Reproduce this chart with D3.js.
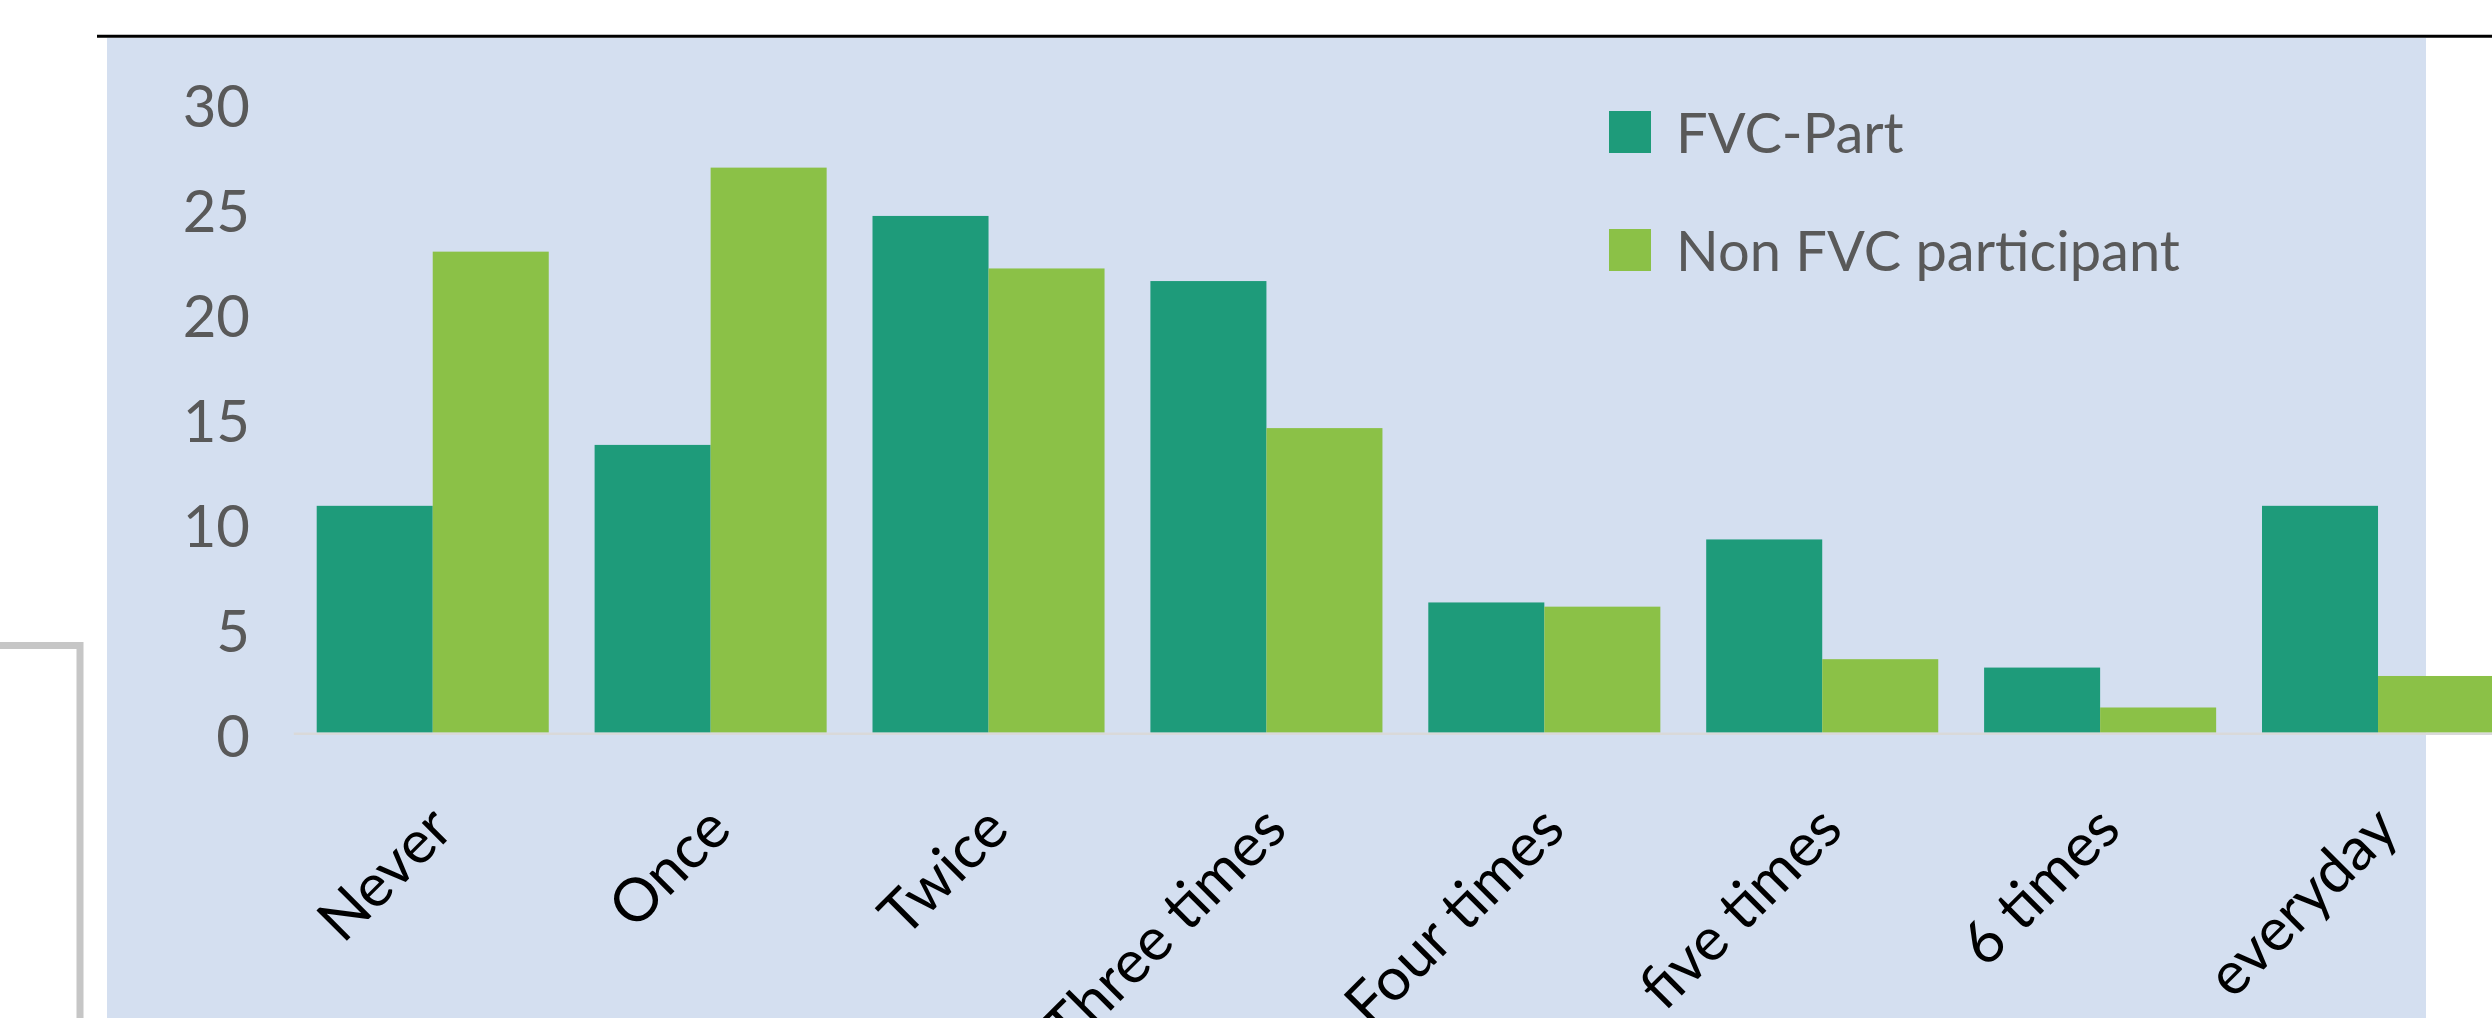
<!DOCTYPE html>
<html>
<head>
<meta charset="utf-8">
<script src="https://cdn.jsdelivr.net/npm/d3@7"></script>
<style>
  body { margin: 0; background: #fff; }
  svg { display: block; }
</style>
</head>
<body>
<script>
// data
var categories = ["Never", "Once", "Twice", "Three times", "Four times", "five times", "6 times", "everyday"];
var seriesNames = ["FVC-Part", "Non FVC participant"];
var fvcPart = [10.8, 13.7, 24.6, 21.5, 6.2, 9.2, 3.1, 10.8];
var nonFvc = [22.9, 26.9, 22.1, 14.5, 6.0, 3.5, 1.2, 2.7];
var yTicks = [0, 5, 10, 15, 20, 25, 30];

var colors = ["#1e9b7a", "#8bc147"];

var width = 2492
var height = 1018

var svg = d3.select("body").append("svg")
    .attr("width", width)
    .attr("height", height)

// slide pieces behind the chart
svg.append("rect")
    .attr("x", 107).attr("y", 38)
    .attr("width", 2426 - 107).attr("height", height - 38)
    .attr("fill", "#d4dff0")

svg.append("line")
    .attr("x1", 97).attr("x2", width)
    .attr("y1", 36.2).attr("y2", 36.2)
    .attr("stroke", "#000").attr("stroke-width", 3)

svg.append("path")
    .attr("d", "M0,645.5 H80 V" + height)
    .attr("fill", "none")
    .attr("stroke", "#c6c6c6").attr("stroke-width", 7)

// scales
var x0 = d3.scaleBand()
    .domain(categories)
    .range([293.75, 2517])
    .paddingInner(0.165)
    .paddingOuter(0.0826)

var x1 = d3.scaleBand()
    .domain(seriesNames)
    .range([0, x0.bandwidth()])

var y = d3.scaleLinear()
    .domain([0, 30])
    .range([732.7, 102.5])

var rows = categories.map(function (c, i) {
    return { cat: c, values: [fvcPart[i], nonFvc[i]] }
})

// bars
var groups = svg.selectAll(".group")
    .data(rows)
    .enter().append("g")
    .attr("class", "group")
    .attr("transform", function (d) { return "translate(" + x0(d.cat) + ",0)" })

groups.selectAll("rect")
    .data(function (d) { return d.values.map(function (v, k) { return { name: seriesNames[k], value: v, k: k } }) })
    .enter().append("rect")
    .attr("x", function (d) { return x1(d.name) })
    .attr("y", function (d) { return y(d.value) })
    .attr("width", x1.bandwidth())
    .attr("height", function (d) { return y(0) - y(d.value) })
    .attr("fill", function (d) { return colors[d.k] })

// zero line
svg.append("line")
    .attr("x1", 293.75).attr("x2", width)
    .attr("y1", y(0) + 1).attr("y2", y(0) + 1)
    .attr("stroke", "#d9d9d9").attr("stroke-width", 2.5)

// y axis labels
var yAxis = d3.axisLeft(y).tickValues(yTicks).tickSize(0).tickPadding(0)
var yg = svg.append("g")
    .attr("transform", "translate(250,3)")
    .call(yAxis)
yg.select(".domain").remove()
yg.selectAll("text")
    .attr("dy", "0.36em")
    .style("font-family", "Lato, 'Open Sans', sans-serif")
    .style("font-size", "58px")
    .attr("fill", "#595959")

// x axis labels, rotated
var xLabels = svg.selectAll(".xlabel")
    .data(categories)
    .enter().append("text")
    .attr("class", "xlabel")
    .attr("text-anchor", "end")
    .attr("transform", function (d) {
        var cx = x0(d) + x0.bandwidth() / 2 + 23
        return "translate(" + cx + ",832) rotate(-45)"
    })
    .style("font-family", "Lato, 'Open Sans', sans-serif")
    .style("font-size", "60px")
    .attr("fill", "#000")
    .text(function (d) { return d })

// legend
var legend = svg.selectAll(".legend")
    .data(seriesNames)
    .enter().append("g")
    .attr("class", "legend")
    .attr("transform", function (d, i) { return "translate(1609," + (111 + i * 118) + ")" })

legend.append("rect")
    .attr("width", 42).attr("height", 42)
    .attr("fill", function (d, i) { return colors[i] })

legend.append("text")
    .attr("x", 67).attr("y", 42)
    .style("font-family", "Lato, 'Open Sans', sans-serif")
    .style("font-size", "56px")
    .attr("fill", "#595959")
    .text(function (d) { return d })
</script>
</body>
</html>
